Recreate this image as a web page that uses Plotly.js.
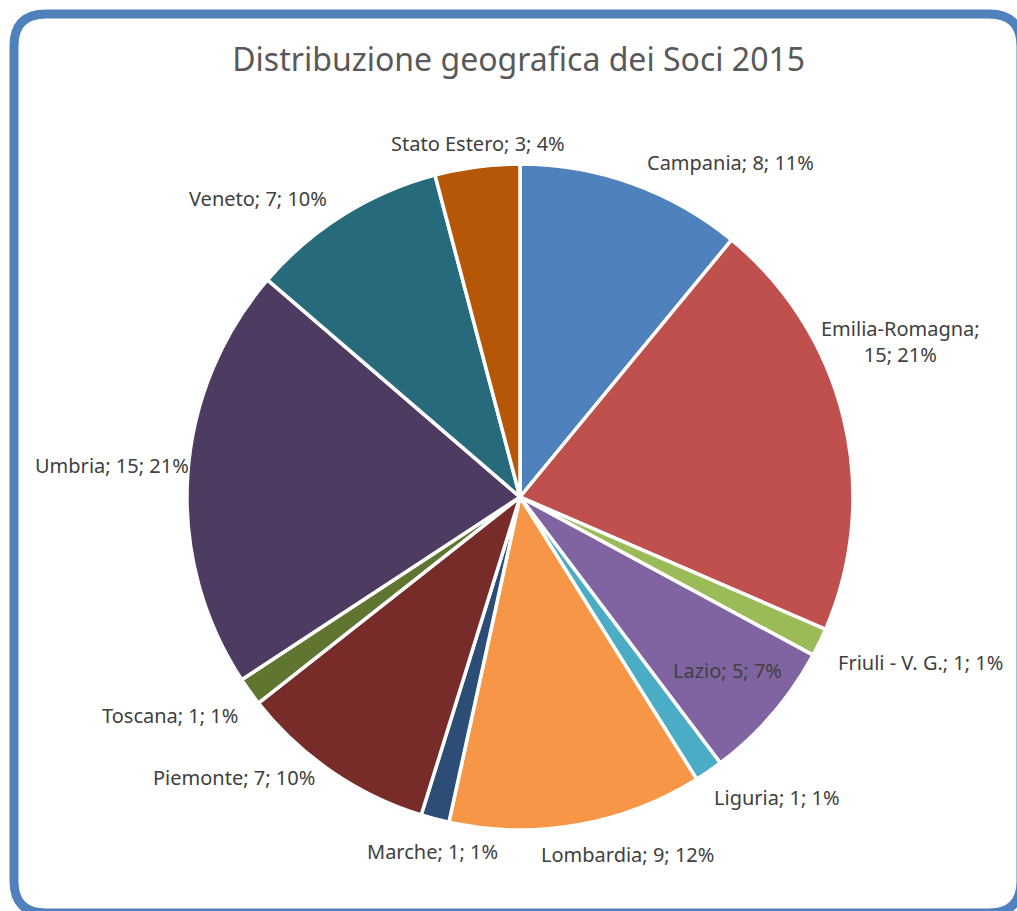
<!DOCTYPE html>
<html>
<head>
<meta charset="utf-8">
<script src="https://cdn.plot.ly/plotly-3.0.1.min.js"></script>
<style>
html,body{margin:0;padding:0;background:#fff;}
#chart{width:1017px;height:911px;}
</style>
</head>
<body>
<div id="chart"></div>
<script>
var regions = ["Campania","Emilia-Romagna","Friuli - V. G.","Lazio","Liguria","Lombardia","Marche","Piemonte","Toscana","Umbria","Veneto","Stato Estero"];
var members = [8,15,1,5,1,9,1,7,1,15,7,3];
var sliceColors = ["#4f81bd","#c0504d","#9bbb59","#8064a2","#4bacc6","#f79646","#2c4d75","#772c2a","#5f7530","#4d3b62","#276a7c","#b65708"];
var chartTitle = "Distribuzione geografica dei Soci 2015";

var W = 1017, H = 911;
function px(x){return x/W;}
function py(y){return 1 - y/H;}

// label placement (pixel positions of label centres)
var labelPos = [
  [730,162],[900,342],[920,662],[727,670],[777,797],[627,854],
  [432,851],[234,777],[170,715],[112,465],[258,198],[478,143]
];

var total = members.reduce(function(a,b){return a+b;},0);
var annotations = regions.map(function(r,i){
  var pct = Math.round(members[i]/total*100) + "%";
  var txt = r + "; " + members[i] + "; " + pct;
  if (r === "Emilia-Romagna") txt = r + ";<br>" + members[i] + "; " + pct;
  return {
    text: txt, xref:"paper", yref:"paper",
    x: px(labelPos[i][0]), y: py(labelPos[i][1]),
    xanchor:"center", yanchor:"middle", showarrow:false,
    font:{family:"Noto Sans, sans-serif", size:20, color:"#404040"}
  };
});

// rounded border
var L=14, T=14, R=1021, B=913, rad=32;
var path = "M " + px(L+rad) + "," + py(T) +
  " L " + px(R-rad) + "," + py(T) +
  " Q " + px(R) + "," + py(T) + " " + px(R) + "," + py(T+rad) +
  " L " + px(R) + "," + py(B-rad) +
  " Q " + px(R) + "," + py(B) + " " + px(R-rad) + "," + py(B) +
  " L " + px(L+rad) + "," + py(B) +
  " Q " + px(L) + "," + py(B) + " " + px(L) + "," + py(B-rad) +
  " L " + px(L) + "," + py(T+rad) +
  " Q " + px(L) + "," + py(T) + " " + px(L+rad) + "," + py(T) + " Z";

var cx = 520, cy = 497, r = 333;
var trace = {
  type:"pie",
  labels: regions,
  values: members,
  sort:false,
  direction:"clockwise",
  rotation:0,
  textinfo:"none",
  hoverinfo:"label+value+percent",
  marker:{colors: sliceColors, line:{color:"#ffffff", width:3.5}},
  domain:{x:[px(cx-r), px(cx+r)], y:[py(cy+r), py(cy-r)]},
  automargin:false
};

var layout = {
  width:W, height:H,
  margin:{l:0,r:0,t:0,b:0},
  paper_bgcolor:"#ffffff",
  showlegend:false,
  title:{text: chartTitle, x:0.51, xanchor:"center", y: py(60), yanchor:"middle",
         font:{family:"Noto Sans, sans-serif", size:32, color:"#595959"}},
  annotations: annotations,
  shapes:[{type:"path", xref:"paper", yref:"paper", path:path, line:{color:"#4f81bd", width:9}}]
};

Plotly.newPlot("chart", [trace], layout, {displayModeBar:false, staticPlot:true});
</script>
</body>
</html>
